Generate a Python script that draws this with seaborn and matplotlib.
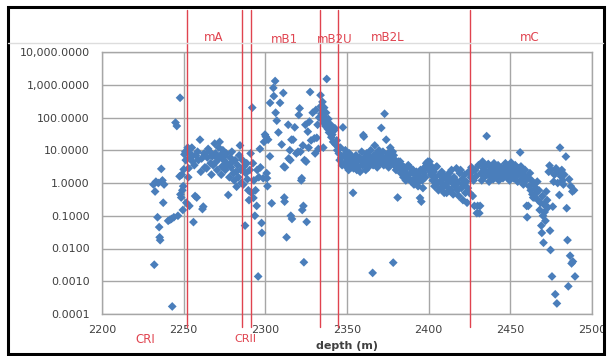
import matplotlib
matplotlib.use("Agg")
import matplotlib.pyplot as plt
from matplotlib.patches import Rectangle
from matplotlib.lines import Line2D
from matplotlib.ticker import FixedLocator, FixedFormatter, NullLocator
import seaborn as sns
import pandas as pd

# ---------------- data ----------------
cri_depth = [2231.5, 2232.0, 2232.5, 2233.0, 2234.0, 2234.5, 2235.0, 2235.3, 2235.6, 2236.3,
             2237.0, 2237.5, 2238.0, 2240.5, 2241.5, 2242.5, 2243.0, 2244.0, 2245.0, 2245.8,
             2246.5, 2247.5, 2247.8, 2248.0, 2248.5, 2248.8, 2249.2, 2249.5, 2249.7, 2250.0,
             2250.5, 2251.0, 2251.3, 2251.6]
cri_value = [0.9, 0.0032, 0.55, 1.1, 0.09, 1.0, 0.045, 0.022, 0.018, 2.7,
             1.2, 0.25, 0.9, 0.07, 0.075, 0.08, 0.00017, 0.09, 70, 55,
             0.1, 1.6, 400, 0.45, 0.36, 1.8, 0.6, 0.15, 0.8, 2.6,
             7.5, 9, 5, 0.25]

ma_depth = [2252.5, 2252.8, 2253.0, 2253.5, 2254.0, 2254.5, 2255.0, 2255.5, 2256.0, 2256.5,
            2257.0, 2257.5, 2258.0, 2258.5, 2259.0, 2260.0, 2260.5, 2261.0, 2261.5, 2262.0,
            2262.5, 2263.0, 2264.0, 2264.5, 2265.0, 2266.0, 2266.5, 2267.0, 2267.5, 2268.0,
            2269.0, 2269.5, 2270.0, 2270.5, 2271.0, 2271.5, 2272.0, 2272.5, 2273.0, 2273.5,
            2274.0, 2274.5, 2275.0, 2275.5, 2276.0, 2276.5, 2277.0, 2277.3, 2278.0, 2278.5,
            2279.0, 2279.5, 2280.0, 2280.5, 2281.0, 2281.5, 2282.0, 2282.4, 2283.0, 2283.5,
            2284.0, 2284.5, 2285.0, 2285.3]
ma_value = [12, 1.5, 2.8, 0.2, 8, 6, 12, 4.5, 0.064, 3.5,
            0.4, 7, 0.36, 9, 5, 21, 2.2, 5.6, 0.16, 0.19,
            8, 3, 2.8, 6, 11, 9, 4, 1.8, 6.5, 3.5,
            16, 8, 4.5, 2.5, 5.6, 12, 18, 7, 1.8, 3.2,
            10, 5, 6.5, 2.5, 8, 4, 3.6, 0.43, 1.5, 6,
            3, 9, 4.5, 2, 1.2, 5, 2.2, 0.77, 3.5, 1.5,
            7, 14, 2.5, 1.0]

crii_depth = [2286.0, 2286.5, 2287.0, 2287.6, 2288.0, 2288.6, 2289.0, 2289.6, 2290.0, 2290.5, 2291.0]
crii_value = [5, 0.9, 3.2, 0.05, 2, 4, 1.3, 0.6, 0.3, 2.5, 8]

mb1_depth = [2291.5, 2292.0, 2292.4, 2292.7, 2293.0, 2293.6, 2294.0, 2294.7, 2295.0, 2295.6,
             2296.0, 2296.7, 2297.0, 2297.7, 2297.9, 2298.7, 2299.2, 2299.8, 2300.3, 2300.8,
             2301.0, 2301.3, 2301.7, 2302.8, 2302.9, 2303.9, 2304.9, 2305.2, 2306.0, 2306.3,
             2307.0, 2308.0, 2309.0, 2310.0, 2311.0, 2311.3, 2311.6, 2311.8, 2312.0, 2313.0,
             2314.0, 2314.3, 2315.0, 2315.3, 2315.6, 2316.0, 2316.3, 2317.0, 2318.0, 2319.0,
             2320.0, 2320.5, 2321.0, 2321.5, 2322.0, 2322.3, 2322.6, 2323.0, 2323.3, 2323.6,
             2324.0, 2324.5, 2325.0, 2325.3, 2326.0, 2326.5, 2327.0, 2327.4, 2328.0, 2329.0,
             2330.0, 2330.5, 2331.0, 2331.5, 2332.0, 2332.5, 2333.0]
mb1_value = [0.5, 200, 4, 0.35, 1.2, 0.1, 0.6, 0.2, 2.5, 0.0014,
             1.5, 11, 3, 0.06, 0.03, 1.4, 18, 30, 26, 2,
             1.4, 0.8, 21, 6.5, 280, 0.24, 800, 450, 1300, 140,
             80, 35, 280, 15, 560, 3.2, 0.36, 0.27, 3, 0.022,
             60, 5.6, 10, 5, 0.1, 21, 0.08, 21, 50, 8,
             9, 120, 190, 9, 1.2, 1.4, 0.15, 14, 0.2, 0.0038,
             5, 60, 4.5, 0.065, 37, 12, 75, 600, 20, 140,
             23, 8, 170, 24, 60, 11, 100]

mb2u_depth = [2333.8, 2334.0, 2334.3, 2334.6, 2335.0, 2335.3, 2335.5, 2335.8, 2336.0, 2336.5,
              2336.8, 2337.2, 2337.6, 2337.8, 2338.2, 2338.6, 2339.0, 2339.6, 2340.0, 2340.4,
              2341.0, 2341.5, 2342.0, 2342.6, 2343.0, 2343.7, 2344.0, 2344.3]
mb2u_value = [480, 220, 130, 90, 300, 160, 12, 70, 200, 100,
              55, 140, 1500, 70, 45, 90, 35, 40, 60, 25,
              30, 18, 40, 47, 15, 20, 10, 13]

mb2l_depth = [2345.0, 2345.5, 2346.0, 2346.5, 2347.0, 2347.5, 2348.0, 2348.5, 2349.0, 2349.5,
              2350.0, 2350.5, 2351.0, 2351.5, 2352.0, 2352.5, 2353.0, 2353.7, 2354.0, 2354.5,
              2355.0, 2355.5, 2356.0, 2356.5, 2357.0, 2357.5, 2358.0, 2358.5, 2359.0, 2359.5,
              2360.0, 2360.3, 2360.6, 2361.0, 2361.5, 2362.0, 2362.5, 2363.0, 2363.5, 2364.0,
              2364.5, 2365.0, 2365.7, 2366.0, 2366.5, 2367.0, 2367.5, 2368.0, 2368.5, 2369.0,
              2369.5, 2370.0, 2370.5, 2371.0, 2371.5, 2372.0, 2372.5, 2373.0, 2373.5, 2374.0,
              2374.5, 2375.0, 2375.5, 2376.0, 2376.5, 2377.0, 2377.5, 2378.0, 2378.3, 2378.6,
              2379.0, 2379.5, 2380.0, 2381.0, 2381.5, 2382.0, 2382.5, 2383.0, 2383.5, 2384.0,
              2384.5, 2385.0, 2385.5, 2386.0, 2386.5, 2387.0, 2387.5, 2388.0, 2388.5, 2389.0,
              2389.5, 2390.0, 2390.5, 2391.0, 2391.5, 2392.0, 2392.5, 2393.0, 2393.5, 2394.0,
              2394.7, 2395.0, 2395.5, 2396.0, 2396.5, 2397.0, 2397.5, 2398.0, 2398.5, 2399.0,
              2399.5, 2400.0, 2400.5, 2401.0, 2401.5, 2402.0, 2402.5, 2403.0, 2403.5, 2404.0,
              2404.5, 2405.0, 2405.5, 2406.0, 2406.5, 2407.0, 2407.5, 2408.0, 2408.5, 2409.0,
              2409.5, 2410.0, 2410.5, 2411.0, 2411.5, 2412.0, 2412.5, 2413.0, 2413.5, 2414.0,
              2414.5, 2415.0, 2415.5, 2416.0, 2416.5, 2417.0, 2417.5, 2418.0, 2418.5, 2419.0,
              2419.5, 2420.0, 2420.5, 2421.0, 2421.5, 2422.0, 2422.5, 2423.0, 2423.5, 2424.0,
              2424.5, 2425.0]
mb2l_value = [8, 5, 12, 6, 3.5, 50, 7, 4, 10, 6,
              3, 5, 2.5, 8, 4, 3, 6, 0.5, 2.8, 5,
              3.5, 7, 2.5, 4.5, 3, 6, 2.2, 5, 9, 3.5,
              29, 26, 6, 4, 2.5, 8, 5, 3, 6.5, 4,
              10, 5.5, 0.0018, 3.5, 7, 14, 4.5, 8, 3, 6,
              10, 4, 7, 48, 5, 9, 3.5, 130, 6, 21,
              4.5, 8, 3, 5, 12, 6, 4, 9, 0.0037, 7,
              3.5, 5, 2.5, 0.36, 4.5, 3, 4.5, 2, 3.5, 2.5,
              1.5, 3, 2, 1.2, 2.8, 1.8, 3.5, 1.3, 3, 2,
              1.1, 1.2, 2.5, 0.9, 1.8, 1.4, 2.2, 1.0, 0.8, 1.6,
              0.35, 2.5, 0.27, 1.2, 0.7, 2, 3, 1.5, 4, 3.5,
              4.5, 2.5, 4.5, 3.5, 1.8, 2.8, 1.2, 2.2, 0.8, 1.5,
              3, 3.2, 1, 0.6, 1.8, 1.1, 0.7, 2.2, 1.3, 0.8,
              0.5, 1.6, 0.9, 0.5, 1.2, 0.7, 2, 1.4, 0.6, 2.5,
              1, 0.45, 1.5, 0.8, 1.2, 2.8, 0.6, 1.0, 0.4, 2,
              2.5, 0.7, 1.3, 0.3, 0.9, 1.8, 0.5, 1.1, 0.25, 0.7,
              2.2, 0.5]

mc_depth = [2425.8, 2426.2, 2426.6, 2427.0, 2427.5, 2428.0, 2428.5, 2429.0, 2429.5, 2430.0,
            2430.5, 2431.0, 2431.5, 2432.0, 2432.5, 2433.0, 2433.5, 2434.0, 2434.5, 2435.0,
            2435.5, 2436.0, 2436.5, 2437.0, 2437.5, 2438.0, 2438.5, 2439.0, 2439.5, 2440.0,
            2440.5, 2441.0, 2441.5, 2442.0, 2442.5, 2443.0, 2443.5, 2444.0, 2444.5, 2445.0,
            2445.5, 2446.0, 2446.5, 2447.0, 2447.5, 2448.0, 2448.5, 2449.0, 2449.5, 2450.0,
            2450.5, 2451.0, 2451.5, 2452.0, 2452.5, 2453.0, 2453.5, 2454.0, 2454.5, 2455.0,
            2455.5, 2456.0, 2456.5, 2457.0, 2457.5, 2458.0, 2458.5, 2459.0, 2459.5, 2460.0,
            2460.3, 2460.6, 2461.0, 2461.5, 2462.0, 2462.5, 2463.0, 2463.5, 2464.0, 2464.5,
            2465.0, 2465.5, 2466.0, 2466.5, 2467.0, 2467.5, 2468.0, 2468.5, 2469.0, 2469.3,
            2469.6, 2470.0, 2470.3, 2470.6, 2471.0, 2471.5, 2472.0, 2472.5, 2473.0, 2473.5,
            2474.0, 2474.3, 2474.6, 2475.0, 2475.5, 2476.0, 2476.5, 2477.0, 2477.5, 2478.0,
            2478.5, 2479.0, 2479.5, 2480.0, 2480.4, 2481.0, 2481.5, 2482.0, 2482.5, 2483.0,
            2484.0, 2484.5, 2485.0, 2485.5, 2486.0, 2486.6, 2487.0, 2487.5, 2488.0, 2488.3,
            2489.0, 2489.6]
mc_value = [1.5, 3, 2.2, 0.4, 1.2, 0.2, 2.5, 1.6, 0.12, 0.2,
            3.5, 0.12, 0.2, 2, 1.2, 4.5, 2.8, 1.5, 3.2, 2.2,
            27, 1.8, 3.8, 1.1, 2.5, 1.6, 3, 2, 1.3, 4,
            2.2, 1.5, 2.8, 1.8, 3.5, 1.2, 2.5, 1.7, 3, 2.2,
            1.4, 2.8, 1.9, 4, 2.4, 1.5, 3.2, 2, 1.2, 2.7,
            4.2, 1.8, 3, 1.4, 2.2, 3.5, 1.6, 2.5, 1.1, 2.8,
            1.9, 8.6, 3.2, 1.3, 2.2, 0.9, 1.7, 2.5, 1.2, 0.2,
            0.09, 1.5, 0.2, 0.8, 2, 0.6, 1.2, 0.45, 0.36, 0.9,
            0.36, 0.7, 0.5, 1.1, 0.3, 0.6, 0.15, 0.25, 0.05, 0.03,
            0.4, 0.1, 0.015, 0.22, 0.13, 0.07, 0.55, 0.3, 0.18, 2.2,
            3.4, 0.035, 0.009, 2.5, 0.0014, 0.19, 1.1, 1.8, 0.0004, 2.8,
            0.00021, 1.0, 2.2, 0.43, 12, 1.6, 2.5, 1.2, 0.9, 1.8,
            6.4, 0.17, 0.018, 0.0007, 1.3, 0.006, 0.8, 0.0035, 0.55, 0.004,
            0.6, 0.0014]

zone_bounds = [2252.0, 2285.7, 2291.2, 2333.5, 2344.5, 2425.3]
zone_labels = ["mA", "mB1", "mB2U", "mB2L", "mC", "CRI", "CRII"]
zone_label_x = [2268.6, 2311.7, 2342.6, 2374.8, 2461.9, 2226.3, 2288.0]

y_ticks = [0.0001, 0.001, 0.01, 0.1, 1, 10, 100, 1000, 10000]
y_tick_labels = ["0.0001", "0.0010", "0.0100", "0.1000", "1.0000", "10.0000",
                 "100.0000", "1,000.0000", "10,000.0000"]
x_ticks = [2200, 2250, 2300, 2350, 2400, 2450, 2500]

df = pd.DataFrame({
    "depth": cri_depth + ma_depth + crii_depth + mb1_depth + mb2u_depth + mb2l_depth + mc_depth,
    "value": cri_value + ma_value + crii_value + mb1_value + mb2u_value + mb2l_value + mc_value,
})

# ---------------- plot ----------------
sns.set_style("white")
plt.rcParams["font.family"] = ["DejaVu Sans"]

W, H = 609, 356
fig = plt.figure(figsize=(W / 100, H / 100), dpi=100)
ax = fig.add_axes([102 / W, 1 - 314 / H, 490 / W, 262 / H])

grid_c = "#A6A6A6"
ax.set_yscale("log")
ax.set_xlim(2200, 2500)
ax.set_ylim(1e-4, 1e4)
ax.yaxis.set_major_locator(FixedLocator(y_ticks))
ax.yaxis.set_major_formatter(FixedFormatter(y_tick_labels))
ax.yaxis.set_minor_locator(NullLocator())
ax.set_xticks(x_ticks)
ax.grid(True, color=grid_c, linewidth=1.0)
ax.set_axisbelow(True)
for s in ax.spines.values():
    s.set_color(grid_c)
    s.set_linewidth(1.0)

sns.scatterplot(data=df, x="depth", y="value", marker="D", color="#4A7EBB",
                s=20, edgecolor="none", linewidth=0, ax=ax, zorder=3)

ax.tick_params(axis="y", length=4, width=1, color=grid_c, pad=5,
               labelsize=8, labelcolor="#404040")
ax.tick_params(axis="x", length=4, width=1, color=grid_c, pad=4,
               labelsize=8, labelcolor="#404040")
ax.set_ylabel("")
ax.set_xlabel("depth (m)", fontsize=8, fontweight="bold", color="#404040", labelpad=4)

red = "#E0434F"
for xb in zone_bounds:
    ax.axvline(xb, ymin=-0.049, ymax=1.16, color=red, linewidth=1.0, clip_on=False, zorder=4)

tr = ax.get_xaxis_transform()
label_y = [1.057, 1.046, 1.046, 1.057, 1.057, -0.097, -0.097]
label_size = [8.5, 8.5, 8.5, 8.5, 8.5, 8.5, 8]
for lab, lx, ly, fs in zip(zone_labels, zone_label_x, label_y, label_size):
    ax.text(lx, ly, lab, transform=tr, ha="center", va="center",
            fontsize=fs, color=red, clip_on=False)

# light separator line and outer frame
fig.add_artist(Line2D([8 / W, 603 / W], [1 - 43 / H, 1 - 43 / H],
                      transform=fig.transFigure, color="#DDDDDD", linewidth=1.0))
fig.add_artist(Rectangle((7.5 / W, 1 - 353.5 / H), 596 / W, 347 / H,
                         transform=fig.transFigure, fill=False,
                         edgecolor="black", linewidth=2.2))

fig.savefig("out.png", dpi=100)
